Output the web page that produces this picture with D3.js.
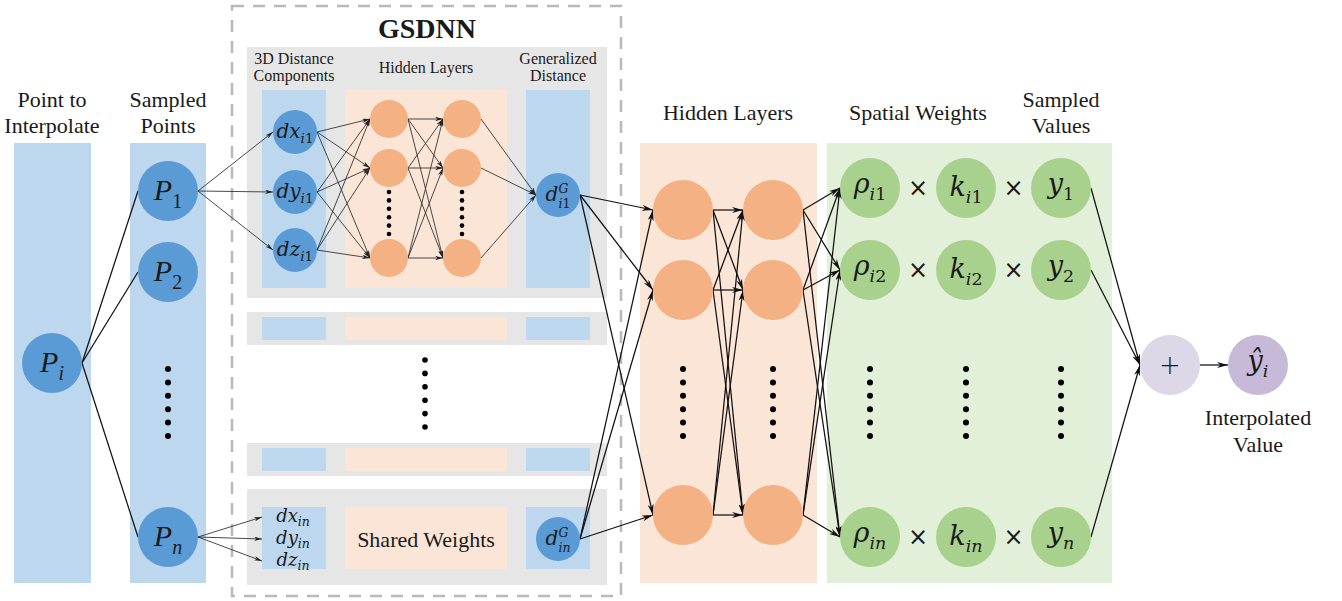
<!DOCTYPE html>
<html><head><meta charset="utf-8">
<script src="https://cdn.jsdelivr.net/npm/d3@7"></script>
<style>body{margin:0;background:#fff}svg{display:block}</style>
</head><body><svg id="c" width="1342" height="601"></svg>
<script>
// ---------- content (data) ----------
const stageTitles = [["Point to","Interpolate"],["Sampled","Points"],["Hidden Layers"],["Spatial Weights"],["Sampled","Values"]];
const gsdnnTitle = "GSDNN";
const gsdnnColumnTitles = [["3D Distance","Components"],["Hidden Layers"],["Generalized","Distance"]];
const sampledPointSubs = ["1","2","n"];
const distanceComponents = ["dx","dy","dz"];
const sharedLabel = "Shared Weights";
const spatialRows = [["i1","i1","1"],["i2","i2","2"],["in","in","n"]];
const outputTitle = ["Interpolated","Value"];
const dotCount = 6;

// ---------- layout / style ----------
const C = {blueL:"#bdd7ee", blue:"#5b9bd5", orL:"#fbe5d6", or:"#f4b183", grL:"#e2f0d9", gr:"#a9d18e",
           gray:"#e7e6e6", purL:"#ddd8e8", pur:"#c7bad9"};
const SERIF = "'Liberation Serif', 'Times New Roman', Tinos, 'Nimbus Roman', 'DejaVu Serif', serif";
const MATH = "'DejaVu Serif', 'Liberation Serif', serif";

const svg = d3.select("#c");
svg.append("rect").attr("width",1342).attr("height",601).attr("fill","#fff");
const defs = svg.append("defs");
function marker(id,w,h,color){
  defs.append("marker").attr("id",id).attr("markerUnits","userSpaceOnUse")
    .attr("markerWidth",w).attr("markerHeight",h).attr("refX",w).attr("refY",h/2).attr("orient","auto")
    .append("path").attr("d",`M0,0L${w},${h/2}L0,${h}L${w*0.3},${h/2}Z`).attr("fill",color);
}
marker("ab",11,6,"#111");
marker("as",8,4.5,"#222");

const gBg = svg.append("g"), gEdge = svg.append("g"), gNode = svg.append("g"), gTxt = svg.append("g");

function rect(x,y,w,h,fill){ gBg.append("rect").attr("x",x).attr("y",y).attr("width",w).attr("height",h).attr("fill",fill); }
function circle(cx,cy,r,fill){ gNode.append("circle").attr("cx",cx).attr("cy",cy).attr("r",r).attr("fill",fill); }
function edge(p,q,arrow,small){
  gEdge.append("line").attr("x1",p[0]).attr("y1",p[1]).attr("x2",q[0]).attr("y2",q[1])
    .attr("stroke", small?"#2a2a2a":"#111").attr("stroke-width", small?0.85:1.25)
    .attr("marker-end", arrow ? (small?"url(#as)":"url(#ab)") : null);
}
function dots(x,y0,y1,n,r){
  const s = d3.scaleLinear().domain([0,n-1]).range([y0,y1]);
  d3.range(n).forEach(i=>gNode.append("circle").attr("cx",x).attr("cy",s(i)).attr("r",r).attr("fill","#000"));
}
function label(lines,x,y,size,lh,opts={}){
  lines.forEach((t,i)=>gTxt.append("text").attr("x",x).attr("y",y+i*lh).attr("text-anchor","middle")
    .style("font-family",SERIF).style("font-size",size+"px").style("font-weight",opts.bold?"bold":"normal")
    .attr("fill","#1a1a1a").text(t));
}
function mathLabel(cx,cy,base,sub,sup,o){
  const g = gTxt.append("g");
  const t = g.append("text").style("font-family",o.font).style("font-size",o.size+"px").attr("fill","#1a1a1a");
  for (const ch of base) t.append("tspan").style("font-style", /[a-zA-Zρŷ]/.test(ch)?"italic":"normal").text(ch);
  const bw = t.node().getComputedTextLength();
  let ew = 0;
  const add = (str,dy)=>{
    const s = g.append("text").attr("x",bw+(o.gap||0)).attr("y",dy).style("font-family",o.font).style("font-size",o.sub+"px").attr("fill","#1a1a1a");
    for (const ch of str) s.append("tspan").style("font-style", /[a-zA-Z]/.test(ch)?"italic":"normal").text(ch);
    ew = Math.max(ew, s.node().getComputedTextLength()+(o.gap||0));
  };
  if (sub) add(sub, sup ? o.sub*0.55 : o.sub*0.38);
  if (sup) add(sup, -o.size*0.4);
  g.attr("transform",`translate(${cx-(bw+ew)/2},${cy+o.size*(o.lift||0.3)})`);
}

// ---------- geometry via scales ----------
const colX = d3.scaleOrdinal().domain(["pi","samp","hid1","hid2","rho","k","y","plus","out"])
  .range([52,168,683,773,870,966,1061,1170,1258]);
const sampY = d3.scaleOrdinal().domain([0,1,2]).range([191,272,537]);
const hidY = d3.scaleOrdinal().domain([0,1,2]).range([210,290,515]);
const grY  = d3.scaleOrdinal().domain([0,1,2]).range([188,270,537]);
const R = 30;

// ---------- backgrounds ----------
rect(14,143,77,440,C.blueL);
rect(130,143,76,440,C.blueL);
rect(640,143,177,440,C.orL);
rect(827,143,285,440,C.grL);

// GSDNN block
const gx0=247, gw=360, cBlue1=[262,64], cOr=[345,162], cBlue2=[526,64];
function grayRow(y,h,iy,ih){ rect(gx0,y,gw,h,C.gray); rect(cBlue1[0],iy,cBlue1[1],ih,C.blueL); rect(cOr[0],iy,cOr[1],ih,C.orL); rect(cBlue2[0],iy,cBlue2[1],ih,C.blueL); }
grayRow(47,251,90,198);
grayRow(312,33,317,23);
grayRow(443,33,448,23);
grayRow(489,96,507,62);
gBg.append("rect").attr("x",232).attr("y",6).attr("width",389).attr("height",590).attr("fill","none")
  .attr("stroke","#b9b9b9").attr("stroke-width",2.5).attr("stroke-dasharray","12 9");

// ---------- titles ----------
label(stageTitles[0],colX("pi"),107,22,26);
label(stageTitles[1],colX("samp"),107,22,26);
label(stageTitles[2],(colX("hid1")+colX("hid2"))/2,120,22,26);
label(stageTitles[3],(colX("rho")+colX("k"))/2,120,22,26);
label(stageTitles[4],colX("y"),107,22,26);
label([gsdnnTitle],427,38,28,0,{bold:true});
label(gsdnnColumnTitles[0],294,64,16,16.5);
label(gsdnnColumnTitles[1],426,73,16,16.5);
label(gsdnnColumnTitles[2],558,64,16,16.5);
label(outputTitle,colX("out"),425,22,27);
label([sharedLabel],426,547,22,0);

// ---------- left: point & sampled points ----------
const piY = 363;
circle(colX("pi"),piY,R,C.blue);
mathLabel(colX("pi"),piY,"P","i",null,{font:SERIF,size:30,sub:20,lift:0.3});
sampledPointSubs.forEach((s,i)=>{
  circle(colX("samp"),sampY(i),R,C.blue);
  mathLabel(colX("samp"),sampY(i),"P",s,null,{font:SERIF,size:30,sub:20,lift:0.3});
  edge([colX("pi")+R,piY],[colX("samp")-R,sampY(i)],false);
});
dots(colX("samp"),369,436,dotCount,3);

// ---------- GSDNN small network ----------
const inX=295, inY=[132,192,250], inR=22;
const hX=[389,462], hY=[119,168,258], hR=19;
const dgX=558, dgY=195;
distanceComponents.forEach((d,i)=>{
  circle(inX,inY[i],inR,C.blue);
  mathLabel(inX,inY[i],d,"i1",null,{font:MATH,size:20,sub:13.5,lift:0.28});
  edge([colX("samp")+R,sampY(0)],[inX-inR,inY[i]],true,true);
  hY.forEach(y=>edge([inX+inR,inY[i]],[hX[0]-hR,y],true,true));
});
hY.forEach(y1=>{ circle(hX[0],y1,hR,C.or); circle(hX[1],y1,hR,C.or);
  hY.forEach(y2=>edge([hX[0]+hR,y1],[hX[1]-hR,y2],true,true));
  edge([hX[1]+hR,y1],[dgX-inR,dgY],true,true);
});
dots(hX[0],192,234,dotCount,2.3); dots(hX[1],192,234,dotCount,2.3);
circle(dgX,dgY,inR,C.blue);
mathLabel(dgX,dgY,"d","i1","G",{font:MATH,size:20,sub:12.5,lift:0.3});
dots(425,360,427,dotCount,2.8);

// bottom shared row
const bY=[517,539,561];
distanceComponents.forEach((d,i)=>{
  mathLabel(293,bY[i],d,"in",null,{font:MATH,size:18,sub:12.5,lift:0.25});
  edge([colX("samp")+R,sampY(2)],[262,bY[i]],true,true);
});
const dgnY = 539;
circle(dgX,dgnY,inR,C.blue);
mathLabel(dgX,dgnY,"d","in","G",{font:MATH,size:20,sub:12.5,lift:0.3});

// ---------- big hidden layers ----------
[0,1,2].forEach(i=>{
  circle(colX("hid1"),hidY(i),R,C.or); circle(colX("hid2"),hidY(i),R,C.or);
  edge([dgX+inR,dgY],[colX("hid1")-R,hidY(i)],true);
  edge([dgX+inR,dgnY],[colX("hid1")-R,hidY(i)],true);
  [0,1,2].forEach(j=>{
    edge([colX("hid1")+R,hidY(i)],[colX("hid2")-R,hidY(j)],true);
    edge([colX("hid2")+R,hidY(i)],[colX("rho")-R,grY(j)],true);
  });
});
dots(colX("hid1"),369,436,dotCount,3); dots(colX("hid2"),369,436,dotCount,3);

// ---------- spatial weights & values ----------
const plusY = 365;
spatialRows.forEach((r,i)=>{
  const y = grY(i);
  circle(colX("rho"),y,R,C.gr); circle(colX("k"),y,R,C.gr); circle(colX("y"),y,R,C.gr);
  mathLabel(colX("rho"),y,"ρ",r[0],null,{font:MATH,size:27,sub:17.5,lift:0.2});
  mathLabel(colX("k"),y,"k",r[1],null,{font:MATH,size:27,sub:17.5,lift:0.3});
  mathLabel(colX("y"),y,"y",r[2],null,{font:MATH,size:27,sub:17.5,lift:0.2});
  [ (colX("rho")+colX("k"))/2, (colX("k")+colX("y"))/2 ].forEach(x=>
    gTxt.append("text").attr("x",x).attr("y",y+8).attr("text-anchor","middle").style("font-family","'DejaVu Sans', sans-serif")
      .style("font-size","24px").attr("fill","#1a1a1a").text("×"));
  edge([colX("y")+R,y],[colX("plus")-R,plusY],true);
});
["rho","k","y"].forEach(c=>dots(colX(c),369,436,dotCount,3));

// ---------- output ----------
circle(colX("plus"),plusY,R,C.purL);
gTxt.append("text").attr("x",colX("plus")).attr("y",plusY+9).attr("text-anchor","middle").style("font-family","'DejaVu Sans', sans-serif")
  .style("font-size","26px").style("font-weight","300").attr("fill","#1a1a1a").text("+");
edge([colX("plus")+R,plusY],[colX("out")-R,plusY],true);
circle(colX("out"),plusY,R,C.pur);
mathLabel(colX("out"),plusY,"ŷ","i",null,{font:MATH,size:27,sub:17.5,lift:0.2});
</script></body></html>
